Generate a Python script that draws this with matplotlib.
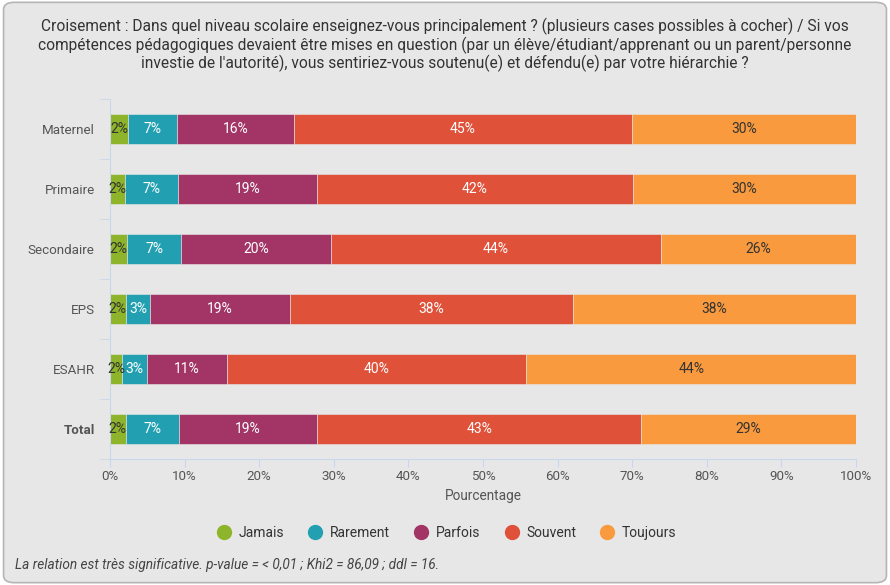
import matplotlib.pyplot as plt
from matplotlib.patches import FancyBboxPatch
from matplotlib.lines import Line2D

plt.rcParams['font.family'] = ['Roboto', 'DejaVu Sans']

niveaux = ["Maternel", "Primaire", "Secondaire", "EPS", "ESAHR", "Total"]
reponses = ["Jamais", "Rarement", "Parfois", "Souvent", "Toujours"]
couleurs = ["#8db42a", "#22a0b1", "#a23566", "#e0513a", "#f89a3d"]

jamais = [2.4, 2.0, 2.3, 2.1, 1.6, 2.1]
rarement = [6.6, 7.1, 7.2, 3.3, 3.3, 7.1]
parfois = [15.6, 18.6, 20.1, 18.7, 10.8, 18.6]
souvent = [45.4, 42.4, 44.3, 38.0, 40.1, 43.4]
toujours = [30.0, 29.9, 26.1, 37.9, 44.2, 28.8]
series = [jamais, rarement, parfois, souvent, toujours]

couleur_texte = ["#333333", "white", "white", "white", "#333333"]
fond = "#e7e7e7"
bleu = "#c9d7ec"

fig = plt.figure(figsize=(8.9, 5.85), dpi=100)
fig.patch.set_facecolor("white")
cadre = FancyBboxPatch((0.004, 0.004), 0.992, 0.992,
                       boxstyle="round,pad=0,rounding_size=0.012",
                       transform=fig.transFigure, facecolor=fond,
                       edgecolor="#b5b5b5", linewidth=1.2, zorder=-5)
fig.patches.append(cadre)

ax = fig.add_axes([110 / 890, 1 - 459 / 585, 746 / 890, 360 / 585])
ax.set_facecolor(fond)

y = list(range(len(niveaux)))
gauche = [0] * len(niveaux)
for serie, nom, c, ct in zip(series, reponses, couleurs, couleur_texte):
    ax.barh(y, serie, left=gauche, height=0.49, color=c,
            edgecolor=fond, linewidth=0.4, label=nom)
    for i, v in enumerate(serie):
        ax.text(gauche[i] + v / 2, y[i], f"{round(v):.0f}%", ha="center",
                va="center", color=ct, fontsize=10)
    gauche = [g + v for g, v in zip(gauche, serie)]

ax.set_xlim(0, 100)
ax.set_ylim(5.5, -0.5)
ax.set_xticks(range(0, 101, 10))
ax.set_xticklabels([f"{t}%" for t in range(0, 101, 10)])
ax.set_yticks(y)
ax.set_yticklabels(niveaux)
for lab in ax.get_yticklabels():
    if lab.get_text() == "Total":
        lab.set_fontweight("bold")
        lab.set_color("#222222")
ax.set_yticks([i + 0.5 for i in range(-1, len(niveaux))], minor=True)
ax.tick_params(axis="y", which="major", length=0, pad=11, labelsize=9.6,
               labelcolor="#555555")
ax.tick_params(axis="y", which="minor", length=7, color=bleu)
ax.tick_params(axis="x", length=6, color=bleu, labelsize=9.6,
               labelcolor="#555555", pad=2)
for s in ["top", "right"]:
    ax.spines[s].set_visible(False)
ax.spines["left"].set_color(bleu)
ax.spines["bottom"].set_color(bleu)
ax.set_xlabel("Pourcentage", fontsize=9.8, color="#555555", labelpad=4)

fig.text(0.5, 1 - 45 / 585,
         "Croisement : Dans quel niveau scolaire enseignez-vous principalement ? "
         "(plusieurs cases possibles à cocher) / Si vos\n"
         "compétences pédagogiques devaient être mises en question (par un "
         "élève/étudiant/apprenant ou un parent/personne\n"
         "investie de l'autorité), vous sentiriez-vous soutenu(e) et défendu(e) "
         "par votre hiérarchie ?",
         ha="center", va="center", fontsize=11.2, color="#333333",
         linespacing=1.08)

poignees = [Line2D([], [], marker="o", linestyle="", markersize=10,
                   markerfacecolor=c, markeredgecolor=c) for c in couleurs]
fig.legend(poignees, reponses, loc="center", ncol=5,
           bbox_to_anchor=(0.5, 1 - 533 / 585), frameon=False,
           fontsize=10, handletextpad=0.3, columnspacing=1.5,
           handlelength=1.5, labelcolor="#333333")

fig.text(15 / 890, 1 - 565 / 585,
         "La relation est très significative. p-value = < 0,01 ; "
         "Khi2 = 86,09 ; ddl = 16.",
         ha="left", va="center", fontsize=9.8, style="italic", color="#444444")

fig.savefig("out.png", dpi=100, facecolor=fig.get_facecolor())
